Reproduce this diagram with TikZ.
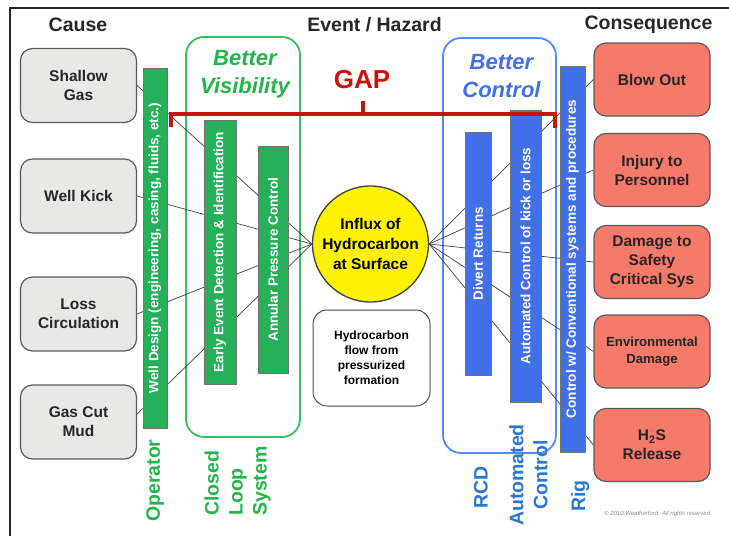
\documentclass[tikz,border=0pt]{standalone}
\usepackage{fontspec}
\setmainfont{Liberation Sans}

\definecolor{causeGray}{RGB}{232,232,230}
\definecolor{effectRed}{RGB}{245,122,106}
\definecolor{influxYellow}{RGB}{255,242,0}
\definecolor{barGreen}{RGB}{38,176,90}
\definecolor{frameGreen}{RGB}{52,190,100}
\definecolor{labelGreen}{RGB}{36,180,75}
\definecolor{barBlue}{RGB}{66,112,230}
\definecolor{frameBlue}{RGB}{80,140,245}
\definecolor{labelBlue}{RGB}{40,120,210}
\definecolor{gapRed}{RGB}{196,20,12}

\tikzset{
  cause/.style={draw=black!65, line width=1.2pt, fill=causeGray, rounded corners=12pt,
    minimum width=116pt, minimum height=74pt, align=center, text=black!85,
    font=\fontsize{15.5}{19}\selectfont\bfseries},
  effect/.style={cause, fill=effectRed, minimum height=73pt},
  bar/.style={draw=black!55, line width=0.6pt, rotate=90, inner sep=0pt, text=white,
    font=\fontsize{13.5}{15}\selectfont\bfseries},
  heading/.style={text=black!85, font=\fontsize{19.5}{22}\selectfont\bfseries},
  group/.style={rounded corners=18pt, line width=1.8pt},
  tag/.style={rotate=90, inner sep=0pt, font=\fontsize{19.5}{24}\selectfont\bfseries},
  link/.style={draw=black!75, line width=0.7pt}
}

\begin{document}
\begin{tikzpicture}[x=1pt, y=-1pt]
  \useasboundingbox (0,0) rectangle (729,536);
  \draw[black!85, line width=1.3pt] (10,536) -- (10,8) -- (729,8);

  % headings
  \node[heading] (causehead) at (78,25) {Cause};
  \node[heading] (eventhead) at (374.5,25) {Event / Hazard};
  \node[heading] (effecthead) at (648.5,25) {Consequence};

  % barrier groups
  \draw[group, frameGreen] (186,37) rectangle (300,437);
  \draw[group, frameBlue] (443,38) rectangle (556,453);
  \node[text=labelGreen, align=center, font=\fontsize{22}{28}\selectfont\bfseries\itshape]
    (visibility) at (245,74) {Better\\Visibility};
  \node[text=barBlue, align=center, font=\fontsize{22}{28}\selectfont\bfseries\itshape]
    (control) at (501.5,76) {Better\\Control};

  % causes and consequences
  \draw
    (78.5,85.5) node[cause] (gas){Shallow\\Gas}
    (78.5,196) node[cause] (kick){Well Kick}
    (78.5,314) node[cause] (loss){Loss\\Circulation}
    (78.5,422) node[cause] (mud){Gas Cut\\Mud};
  \draw
    (652,79.5) node[effect] (blowout){Blow Out}
    (652,170) node[effect] (injury){Injury to\\Personnel}
    (652,262) node[effect] (damage){Damage to\\Safety\\Critical Sys}
    (652,351.5) node[effect, font=\fontsize{13.2}{17}\selectfont\bfseries] (environ){Environmental\\Damage}
    (652,445) node[effect] (release){H\textsubscript{2}S\\Release};

  % top event
  \node[circle, draw=black!75, line width=1.3pt, fill=influxYellow, minimum size=116pt,
    inner sep=0pt, align=center, font=\fontsize{15.5}{20}\selectfont\bfseries]
    (influx) at (370.5,244) {Influx of\\Hydrocarbon\\at Surface};
  \node[draw=black!70, line width=1pt, rounded corners=14pt, minimum width=117pt,
    minimum height=96pt, align=center, font=\fontsize{12}{15}\selectfont\bfseries]
    (flow) at (371.5,358) {Hydrocarbon\\flow from\\pressurized\\formation};

  \begin{scope}[link]
    \draw (gas.east) to (influx.west);
    \draw (kick.east) to (influx.west);
    \draw (loss.east) to (influx.west);
    \draw ([yshift=8pt]mud.east) to (influx.west);
    \draw (influx.east) to (blowout.west);
    \draw (influx.east) to (injury.west);
    \draw (influx.east) to (damage.west);
    \draw (influx.east) to (environ.west);
    \draw (influx.east) to (release.west);
  \end{scope}

  % barriers
  \node[bar, fill=barGreen, minimum width=360pt, minimum height=24pt]
    (design) at (155,248) {Well Design (engineering, casing, fluids, etc.)};
  \node[bar, fill=barGreen, minimum width=264pt, minimum height=32pt]
    (detect) at (220,252) {Early Event Detection \& Identification};
  \node[bar, fill=barGreen, minimum width=227pt, minimum height=30pt]
    (annular) at (273,259.5) {Annular Pressure Control};
  \node[bar, fill=barBlue, minimum width=243pt, minimum height=26pt]
    (divert) at (478,253.5) {Divert Returns};
  \node[bar, fill=barBlue, minimum width=292pt, minimum height=31pt]
    (auto) at (525.5,256) {Automated Control of kick or loss};
  \node[bar, fill=barBlue, minimum width=386pt, minimum height=25pt]
    (rig) at (572.5,259) {Control w/ Conventional systems and procedures};

  % gap bracket
  \draw[gapRed, line width=4pt] (171,127) -- (171,114) -- (555,114) -- (555,128);
  \draw[gapRed, line width=4pt] (363,114) -- (363,101);
  \node[text=gapRed, font=\fontsize{26}{28}\selectfont\bfseries] (gap) at (362,80) {GAP};

  % owners
  \node[tag, text=labelGreen, anchor=west] (operator) at (155,522) {Operator};
  \node[tag, text=labelGreen, anchor=west, align=left]
    (closedloop) at (237.5,516) {Closed\\Loop\\System};
  \node[tag, text=labelBlue] (rcd) at (481,487.5) {RCD};
  \node[tag, text=labelBlue, align=center] (automated) at (528.5,475) {Automated\\Control};
  \node[tag, text=labelBlue] (rigtag) at (580,496) {Rig};

  \node[text=black!45, font=\fontsize{6}{7}\selectfont\itshape]
    (copy) at (658,514) {\copyright\ 2010 Weatherford. All rights reserved.};
\end{tikzpicture}
\end{document}
